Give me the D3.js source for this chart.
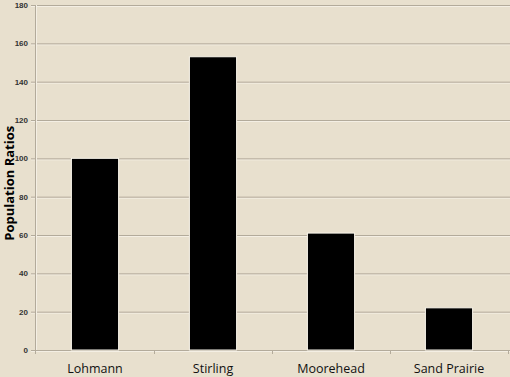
<!DOCTYPE html>
<html><head><meta charset="utf-8">
<script src="https://cdn.jsdelivr.net/npm/d3@7"></script>
<style>html,body{margin:0;padding:0;background:#e8e0ce;}svg{display:block;}</style>
</head><body>
<svg id="c" width="510" height="377"></svg>
<script>
const categories = ["Lohmann", "Stirling", "Moorehead", "Sand Prairie"];
const values = [100, 153, 61, 22];
const yTicks = [0, 20, 40, 60, 80, 100, 120, 140, 160, 180];
const yTitle = "Population Ratios";

const svg = d3.select("#c");
svg.append("rect").attr("width", 510).attr("height", 377).attr("fill", "#e8e0ce");

const x = d3.scaleBand().domain(categories).range([36, 508]).padding(0);
const y = d3.scaleLinear().domain([0, 180]).range([350, 5]);

// gridlines
const grid = svg.append("g");
yTicks.forEach(t => {
  grid.append("line").attr("x1", 31).attr("x2", 510).attr("y1", y(t) + 1.5).attr("y2", y(t) + 1.5)
    .attr("stroke", "#f4efe4").attr("stroke-width", 1);
  grid.append("line").attr("x1", 31).attr("x2", 510).attr("y1", y(t) + 0.5).attr("y2", y(t) + 0.5)
    .attr("stroke", "#b3ab9b").attr("stroke-width", 1);
});

// y axis line
svg.append("line").attr("x1", 35.5).attr("x2", 35.5).attr("y1", y(180)).attr("y2", y(0) + 4)
  .attr("stroke", "#b3ab9b");
svg.append("line").attr("x1", 36.5).attr("x2", 36.5).attr("y1", y(180)).attr("y2", y(0))
  .attr("stroke", "#f4efe4");

// x category ticks
categories.forEach((c, i) => {
  const xx = Math.round(x(c) + x.bandwidth()) + 0.5;
  svg.append("line").attr("x1", xx).attr("x2", xx).attr("y1", y(0)).attr("y2", y(0) + 4)
    .attr("stroke", "#b3ab9b");
});

// y tick labels
const yAxis = d3.axisLeft(y).tickValues(yTicks).tickSize(0).tickPadding(0);
const ga = svg.append("g").attr("transform", "translate(28,0)").call(yAxis);
ga.select(".domain").remove();
ga.selectAll("text").attr("font-family", "Liberation Sans, Arial, sans-serif")
  .attr("font-size", 8).attr("font-weight", "bold").attr("fill", "#333");

// bars
const bw = x.bandwidth() * 0.4;
svg.append("g").selectAll("rect").data(values).join("rect")
  .attr("x", (d, i) => x(categories[i]) + x.bandwidth() / 2 - bw / 2)
  .attr("y", d => y(d))
  .attr("width", bw)
  .attr("height", d => y(0) - y(d))
  .attr("fill", "#000")
  .attr("stroke", "#faf6ec").attr("stroke-width", 1);

// category labels
const xAxis = d3.axisBottom(x).tickSize(0).tickPadding(0);
const gx = svg.append("g").attr("transform", "translate(0,364)").call(xAxis);
gx.select(".domain").remove();
gx.selectAll("text").attr("font-family", "Open Sans, sans-serif").attr("font-size", 12.5).attr("fill", "#111");

// y title
svg.append("text").attr("transform", "translate(14," + y(87) + ") rotate(-90)")
  .attr("text-anchor", "middle").attr("font-family", "Open Sans, sans-serif")
  .attr("font-weight", "bold").attr("font-size", 13).attr("fill", "#000").text(yTitle);
</script>
</body></html>
